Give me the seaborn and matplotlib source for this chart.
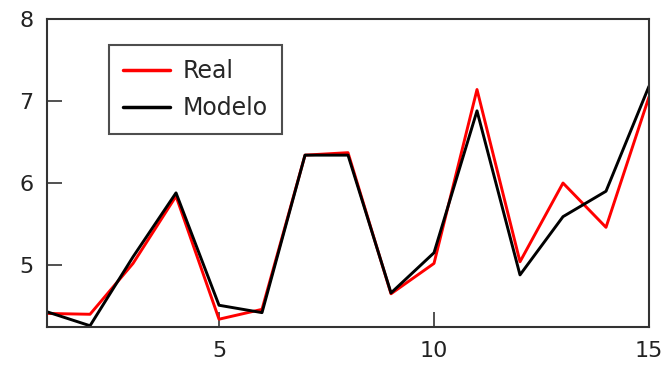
import pandas as pd
import matplotlib
matplotlib.use("Agg")
import matplotlib.pyplot as plt
import seaborn as sns

# dados
x = list(range(1, 16))
real = [4.41, 4.40, 5.02, 5.84, 4.34, 4.46, 6.34, 6.37, 4.65, 5.02, 7.14, 5.04, 6.00, 5.46, 7.05]
modelo = [4.43, 4.26, 5.10, 5.88, 4.51, 4.42, 6.34, 6.34, 4.66, 5.15, 6.88, 4.88, 5.59, 5.90, 7.18]

df = pd.DataFrame({
    "x": x * 2,
    "y": real + modelo,
    "serie": ["Real"] * len(x) + ["Modelo"] * len(x),
})

sns.set_style("white")
plt.rcParams["font.family"] = ["DejaVu Sans"]

fig = plt.figure(figsize=(6.67, 3.72), dpi=100)
ax = fig.add_axes([0.0705, 0.121, 0.9025, 0.828])

sns.lineplot(data=df, x="x", y="y", hue="serie", palette={"Real": "#ff0000", "Modelo": "#000000"},
             linewidth=2.1, ax=ax, estimator=None, sort=False)

ax.set_xlim(1, 15)
ax.set_ylim(4.245, 8)
ax.set_xticks([5, 10, 15])
ax.set_yticks([5, 6, 7, 8])
ax.set_xlabel("")
ax.set_ylabel("")
ax.tick_params(bottom=True, left=True, direction="in", length=11, width=1.2, labelsize=16, pad=10,
               colors="#333333", labelcolor="#222222")
for s in ax.spines.values():
    s.set_color("#333333")
    s.set_linewidth(1.5)

leg = ax.legend(loc="upper left", bbox_to_anchor=(0.103, 0.916), borderaxespad=0,
                fontsize=17, frameon=True, fancybox=False, edgecolor="#222222",
                handlelength=2.0, handletextpad=0.5, labelspacing=0.55, borderpad=0.6)
leg.get_frame().set_linewidth(1.5)
for h in leg.get_lines():
    h.set_linewidth(2.5)

fig.savefig("out.png", dpi=100)
